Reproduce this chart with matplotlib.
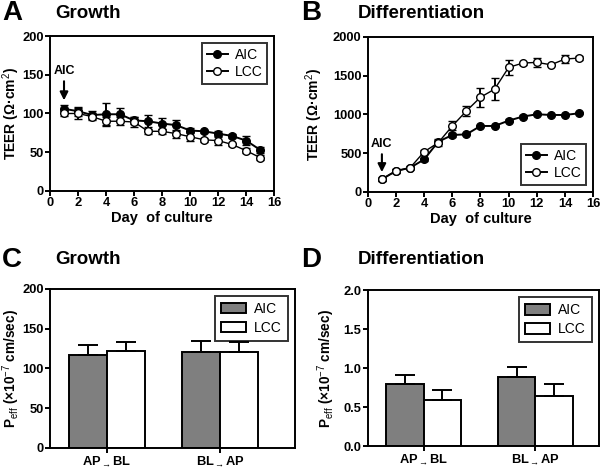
import numpy as np
import matplotlib
matplotlib.use("Agg")
import matplotlib.pyplot as plt
from matplotlib.lines import Line2D

plt.rcParams['font.family'] = ['Liberation Sans', 'DejaVu Sans']
plt.rcParams['mathtext.fontset'] = 'custom'
plt.rcParams['mathtext.rm'] = 'Liberation Sans'
plt.rcParams['mathtext.bf'] = 'Liberation Sans:bold'
plt.rcParams['mathtext.it'] = 'Liberation Sans'

# TEER data, days 1..15
days = np.arange(1, 16)
growth_aic = [106, 103, 98, 99, 99, 91, 90, 87, 85, 78, 77, 74, 71, 65, 53]
growth_aic_err = [5, 6, 5, 14, 8, 5, 8, 7, 7, 3, 2, 4, 2, 6, 4]
growth_lcc = [100, 100, 96, 90, 90, 89, 77, 77, 74, 70, 66, 65, 60, 52, 43]
growth_lcc_err = [3, 7, 5, 6, 5, 6, 3, 3, 5, 6, 3, 6, 2, 3, 3]

diff_aic = [164, 270, 311, 419, 648, 734, 743, 851, 851, 920, 972, 1002, 993, 993, 1015]
diff_aic_err = [20, 20, 15, 20, 35, 20, 15, 15, 15, 15, 15, 15, 10, 10, 15]
diff_lcc = [165, 270, 311, 518, 635, 851, 1045, 1222, 1326, 1607, 1663, 1672, 1641, 1715, 1728]
diff_lcc_err = [20, 20, 20, 25, 40, 58, 70, 125, 140, 95, 20, 60, 15, 55, 20]

# permeability data
directions = [r'AP$_{\rightarrow}$BL', r'BL$_{\rightarrow}$AP']
peff_growth_aic = [117, 121]
peff_growth_aic_err = [12, 13]
peff_growth_lcc = [122, 120]
peff_growth_lcc_err = [11, 13]
peff_diff_aic = [0.80, 0.89]
peff_diff_aic_err = [0.11, 0.12]
peff_diff_lcc = [0.59, 0.645]
peff_diff_lcc_err = [0.13, 0.145]

fig = plt.figure(figsize=(6.01, 4.68), dpi=100)
axA = fig.add_axes([0.0832, 0.592, 0.373, 0.331])
axB = fig.add_axes([0.612, 0.590, 0.375, 0.331])
axC = fig.add_axes([0.0832, 0.043, 0.408, 0.340])
axD = fig.add_axes([0.612, 0.047, 0.385, 0.333])

tick_fs = 9.3
lbl_fs = 10.5


def style_axes(ax):
    for s in ax.spines.values():
        s.set_linewidth(1.4)
    ax.tick_params(direction='out', width=1.4, length=3.5, labelsize=tick_fs, pad=1)
    for t in ax.get_xticklabels() + ax.get_yticklabels():
        t.set_fontweight('bold')


def line_panel(ax, a, ae, l, le, ymax, ystep, legloc, arrow_y, text_y, ylab_x):
    ax.errorbar(days, a, yerr=ae, color='black', marker='o', ms=5.5, lw=1.4,
                capsize=3, elinewidth=1.4, mfc='black')
    ax.errorbar(days, l, yerr=le, color='black', marker='o', ms=5.5, lw=1.0,
                capsize=3, elinewidth=1.4, mfc='white')
    ax.set_xlim(0, 16)
    ax.set_ylim(0, ymax)
    ax.set_xticks(range(0, 17, 2))
    ax.set_yticks(np.arange(0, ymax + 1, ystep))
    ax.set_xlabel('Day  of culture', fontsize=lbl_fs, fontweight='bold', labelpad=1)
    ax.set_ylabel('TEER (\u03a9\u00b7cm$^2$)', fontsize=10, fontweight='bold')
    ax.yaxis.set_label_coords(ylab_x, 0.5)
    ax.annotate('AIC', xy=(1, arrow_y), xytext=(1, text_y), ha='center', va='bottom',
                fontsize=9, fontweight='bold',
                arrowprops=dict(arrowstyle='-|>', color='black', lw=1.5, mutation_scale=12,
                                shrinkA=1, shrinkB=0))
    handles = [Line2D([], [], color='black', marker='o', ms=5.5, lw=1.4, mfc='black'),
               Line2D([], [], color='black', marker='o', ms=5.5, lw=1.4, mfc='white')]
    leg = ax.legend(handles, ['AIC', 'LCC'], loc=legloc, fontsize=10, frameon=True,
                    fancybox=False, edgecolor='black', handlelength=1.5,
                    borderpad=0.35, labelspacing=0.25, handletextpad=0.5)
    leg.get_frame().set_linewidth(1.4)
    style_axes(ax)


def bar_panel(ax, a, ae, l, le, ymax, ystep, xmax, fmt, ylab_x):
    x = np.arange(len(directions))
    w = 0.335
    ekw = dict(lw=1.4, capsize=7, capthick=1.4)
    ax.bar(x - w / 2, a, w, yerr=[np.zeros(len(ae)), ae], color='#7f7f7f',
           edgecolor='black', lw=1.4, error_kw=ekw, label='AIC')
    ax.bar(x + w / 2, l, w, yerr=[np.zeros(len(le)), le], color='white',
           edgecolor='black', lw=1.4, error_kw=ekw, label='LCC')
    ax.set_xlim(-0.5, xmax)
    ax.set_ylim(0, ymax)
    ticks = np.arange(0, ymax + ystep / 2, ystep)
    ax.set_yticks(ticks)
    ax.set_yticklabels([fmt.format(v) for v in ticks])
    ax.set_xticks(x)
    ax.set_xticklabels(directions, fontsize=tick_fs, fontweight='bold')
    ax.set_ylabel('P$_{eff}$ (\u00d710$^{-7}$ cm/sec)', fontsize=9.8,
                  fontweight='bold')
    ax.yaxis.set_label_coords(ylab_x, 0.5)
    leg = ax.legend(loc='upper right', fontsize=10, frameon=True, fancybox=False,
                    edgecolor='black', handlelength=1.8, handleheight=0.8,
                    borderpad=0.45, labelspacing=0.35, handletextpad=0.6)
    leg.get_frame().set_linewidth(1.4)
    style_axes(ax)


line_panel(axA, growth_aic, growth_aic_err, growth_lcc, growth_lcc_err,
           200, 50, 'upper right', 117, 147, -0.127)
line_panel(axB, diff_aic, diff_aic_err, diff_lcc, diff_lcc_err,
           2000, 500, 'lower right', 255, 540, -0.19)
bar_panel(axC, peff_growth_aic, peff_growth_aic_err, peff_growth_lcc, peff_growth_lcc_err,
          200, 50, 1.66, '{:.0f}', -0.116)
bar_panel(axD, peff_diff_aic, peff_diff_aic_err, peff_diff_lcc, peff_diff_lcc_err,
          2.0, 0.5, 1.57, '{:.1f}', -0.134)

# panel letters and titles
for lx, ly, letter, tx, title in [(2, 13, 'A', 55, 'Growth'),
                                   (301, 13, 'B', 358, 'Differentiation'),
                                   (2, 260, 'C', 55, 'Growth'),
                                   (301, 260, 'D', 358, 'Differentiation')]:
    fig.text(lx / 601, 1 - ly / 468, letter, fontsize=20, fontweight='bold', va='center', ha='left')
    fig.text(tx / 601, 1 - ly / 468, title, fontsize=13.5, fontweight='bold', va='center', ha='left')

fig.savefig('out.png', dpi=100)
